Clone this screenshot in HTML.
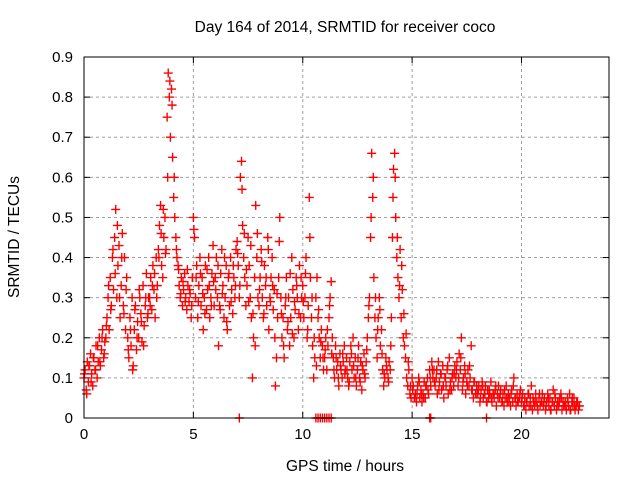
<!DOCTYPE html>
<html><head><meta charset="utf-8"><style>
body{margin:0;background:#fff;}
svg{display:block;font-family:"Liberation Sans",sans-serif;}
</style></head><body>
<svg id="chart" width="640" height="480">
<text x="345" y="32" text-anchor="middle" font-size="15.5">Day 164 of 2014, SRMTID for receiver coco</text>
<text x="0" y="0" transform="translate(19,237) rotate(-90)" text-anchor="middle" font-size="15.5">SRMTID / TECUs</text>
<text x="345" y="471" text-anchor="middle" font-size="15.5">GPS time / hours</text>
<g id="grid"></g>
<g id="ticks"></g>
<g id="pts"></g>
<rect x="84" y="57" width="525" height="361" fill="none" stroke="#000" stroke-width="1"/>
</svg>
<script>
const xTicks=[0,5,10,15,20];
const yTicks=[0,0.1,0.2,0.3,0.4,0.5,0.6,0.7,0.8,0.9];
const yTickLabels=["0","0.1","0.2","0.3","0.4","0.5","0.6","0.7","0.8","0.9"];
const sampleStep=0.05;
const srmtid=[
0.10,0.12,0.07,0.14,0.09,0.13,0.16,0.11,0.08,0.15,0.12,0.18,0.10,0.14,0.20,0.13,0.17,0.22,0.15,0.19,
0.2,0.25,0.3,0.22,0.35,0.28,0.4,0.32,0.45,0.52,0.3,0.38,0.43,0.25,0.33,0.46,0.28,0.4,0.22,0.35,
0.2,0.15,0.25,0.18,0.3,0.13,0.22,0.28,0.17,0.24,0.2,0.3,0.26,0.19,0.33,0.23,0.28,0.36,0.25,0.3,
0.3,0.35,0.27,0.38,0.32,0.25,0.4,0.33,0.42,0.48,0.53,0.38,0.35,0.45,0.5,0.42,0.75,0.86,0.8,0.7,
0.82,0.65,0.55,0.5,0.45,0.4,0.38,0.33,0.3,0.35,0.28,0.32,0.36,0.3,0.27,0.33,0.29,0.31,0.25,0.35,
0.5,0.45,0.3,0.38,0.25,0.33,0.4,0.28,0.35,0.22,0.3,0.38,0.27,0.32,0.4,0.25,0.3,0.36,0.43,0.28,
0.35,0.4,0.3,0.18,0.28,0.36,0.42,0.33,0.25,0.3,0.38,0.22,0.35,0.28,0.4,0.32,0.26,0.35,0.3,0.42,
0.44,0.38,0.3,0.6,0.64,0.48,0.4,0.35,0.28,0.33,0.45,0.38,0.3,0.25,0.1,0.2,0.35,0.53,0.4,0.3,
0.28,0.35,0.42,0.3,0.25,0.38,0.33,0.28,0.45,0.22,0.3,0.35,0.4,0.27,0.32,0.08,0.15,0.25,0.35,0.5,
0.3,0.2,0.25,0.15,0.28,0.35,0.22,0.3,0.18,0.25,0.4,0.32,0.2,0.27,0.35,0.3,0.22,0.38,0.25,0.3,
0.33,0.25,0.3,0.4,0.2,0.28,0.55,0.35,0.25,0.18,0.1,0.15,0.3,0.35,0.25,0.2,0.15,0.22,0.18,0.12,
0.15,0.2,0.12,0.18,0.25,0.3,0.34,0.2,0.15,0.1,0.18,0.12,0.14,0.08,0.16,0.12,0.1,0.14,0.18,0.12,
0.15,0.1,0.08,0.14,0.18,0.12,0.2,0.1,0.15,0.08,0.12,0.18,0.1,0.14,0.07,0.12,0.16,0.1,0.14,0.2,
0.25,0.3,0.45,0.66,0.55,0.35,0.25,0.2,0.15,0.25,0.3,0.18,0.22,0.12,0.08,0.1,0.15,0.12,0.1,0.14,
0.12,0.25,0.45,0.62,0.66,0.5,0.4,0.35,0.3,0.42,0.25,0.32,0.2,0.18,0.15,0.1,0.08,0.12,0.06,0.05,
0.1,0.08,0.05,0.06,0.04,0.08,0.1,0.05,0.07,0.04,0.06,0.09,0.05,0.08,0.1,0.06,0.12,0.08,0.14,0.1,
0.12,0.08,0.1,0.06,0.14,0.09,0.11,0.07,0.13,0.05,0.1,0.08,0.12,0.06,0.15,0.09,0.07,0.11,0.08,0.13,
0.1,0.14,0.08,0.16,0.12,0.2,0.07,0.1,0.13,0.06,0.09,0.12,0.08,0.1,0.18,0.07,0.05,0.09,0.06,0.08,
0.06,0.08,0.04,0.07,0.09,0.05,0.06,0.08,0.04,0.07,0.05,0.06,0.09,0.04,0.06,0.05,0.07,0.03,0.06,0.08,
0.05,0.07,0.04,0.06,0.03,0.05,0.08,0.04,0.06,0.05,0.03,0.07,0.04,0.1,0.05,0.03,0.06,0.04,0.05,0.07,
0.04,0.06,0.03,0.05,0.02,0.04,0.06,0.03,0.05,0.08,0.02,0.04,0.03,0.06,0.04,0.02,0.05,0.03,0.04,0.06,
0.03,0.05,0.02,0.04,0.06,0.03,0.05,0.02,0.04,0.07,0.03,0.05,0.02,0.04,0.03,0.05,0.06,0.02,0.04,0.03,
0.04,0.02,0.05,0.03,0.06,0.02,0.04,0.03,0.05,0.02,0.03,0.04,0.02,0.03];
const sampleStepB=0.1;
const sampleOffsetB=0.025;
const srmtidB=[
0.11,0.06,0.13,0.09,0.15,0.12,0.18,0.14,0.2,0.16,
0.23,0.33,0.27,0.42,0.36,0.48,0.3,0.4,0.26,0.32,
0.17,0.22,0.12,0.27,0.2,0.32,0.24,0.18,0.3,0.26,
0.28,0.33,0.36,0.3,0.4,0.46,0.52,0.41,0.6,0.84,
0.78,0.6,0.42,0.37,0.31,0.34,0.29,0.37,0.32,0.28,
0.47,0.35,0.29,0.36,0.31,0.26,0.37,0.33,0.28,0.34,
0.32,0.38,0.27,0.31,0.4,0.24,0.36,0.29,0.38,0.33,
0.41,0.33,0.57,0.46,0.37,0.29,0.43,0.26,0.18,0.46,
0.32,0.39,0.26,0.35,0.42,0.29,0.33,0.2,0.31,0.44,
0.26,0.18,0.3,0.24,0.36,0.21,0.29,0.33,0.26,0.35,
0.29,0.36,0.22,0.45,0.3,0.2,0.13,0.27,0.19,0.15,
0.17,0.22,0.28,0.16,0.12,0.15,0.1,0.13,0.16,0.11,
0.12,0.09,0.16,0.13,0.1,0.15,0.09,0.13,0.11,0.17,
0.28,0.5,0.6,0.3,0.22,0.27,0.16,0.11,0.13,0.09,
0.18,0.55,0.6,0.45,0.33,0.38,0.26,0.21,0.14,0.08,
0.07,0.05,0.06,0.09,0.06,0.05,0.08,0.07,0.1,0.12,
0.09,0.12,0.07,0.11,0.08,0.1,0.13,0.07,0.1,0.11,
0.12,0.1,0.15,0.09,0.11,0.08,0.13,0.07,0.09,0.06,
0.07,0.05,0.08,0.06,0.04,0.07,0.05,0.06,0.08,0.05,
0.06,0.04,0.07,0.05,0.04,0.06,0.08,0.05,0.04,0.06,
0.05,0.03,0.04,0.06,0.03,0.05,0.04,0.03,0.06,0.04,
0.04,0.03,0.05,0.02,0.04,0.06,0.03,0.04,0.05,0.03,
0.03,0.04,0.02,0.05,0.03,0.04,0.03];
const zeroTimes=[7.1,10.6,10.7,10.8,10.9,11.0,11.1,11.2,11.3,15.8,15.85,18.4];
const X0=84,X1=609,Y0=418,Y1=57,XMAX=24,YMAX=0.9;
const sx=t=>X0+(X1-X0)*t/XMAX;
const sy=v=>Y0-(Y0-Y1)*v/YMAX;
const NS="http://www.w3.org/2000/svg";
const grid=document.getElementById('grid'),ticks=document.getElementById('ticks'),pts=document.getElementById('pts');
function mk(tag,attrs,parent){const e=document.createElementNS(NS,tag);for(const k in attrs)e.setAttribute(k,attrs[k]);parent.appendChild(e);return e;}
xTicks.forEach(t=>{
  const x=sx(t);
  if(t>0){const g=mk('line',{x1:x,x2:x,y1:Y1,y2:Y0,stroke:'#a0a0a0','stroke-dasharray':'3,3'},grid);
  
  }
  mk('line',{x1:x,x2:x,y1:Y0,y2:Y0-6,stroke:'#000'},ticks);
  mk('line',{x1:x,x2:x,y1:Y1,y2:Y1+6,stroke:'#000'},ticks);
  const l=mk('text',{x:x,y:Y0+21,'text-anchor':'middle','font-size':'15'},ticks);
  l.textContent=t;
  
  
});
yTicks.forEach((v,i)=>{
  const y=sy(v);
  if(v>0&&v<YMAX){const g=mk('line',{x1:X0,x2:X1,y1:y,y2:y,stroke:'#a0a0a0','stroke-dasharray':'3,3'},grid);
  
  }
  mk('line',{x1:X0,x2:X0+6,y1:y,y2:y,stroke:'#000'},ticks);
  mk('line',{x1:X1,x2:X1-6,y1:y,y2:y,stroke:'#000'},ticks);
  const l=mk('text',{x:X0-11,y:y+5,'text-anchor':'end','font-size':'15'},ticks);
  l.textContent=yTickLabels[i];
  
  
});
function plus(t,v){
  const x=sx(t),y=sy(v);
  const p=mk('path',{d:`M${x-4.5},${y}H${x+4.5}M${x},${y-4.5}V${y+4.5}`,stroke:'#ff0000','stroke-width':'1.4',fill:'none'},pts);
  
  
}
srmtid.forEach((v,i)=>plus(i*sampleStep,v));
srmtidB.forEach((v,i)=>plus(sampleOffsetB+i*sampleStepB,v));
zeroTimes.forEach(t=>plus(t,0));
</script>
</body></html>
